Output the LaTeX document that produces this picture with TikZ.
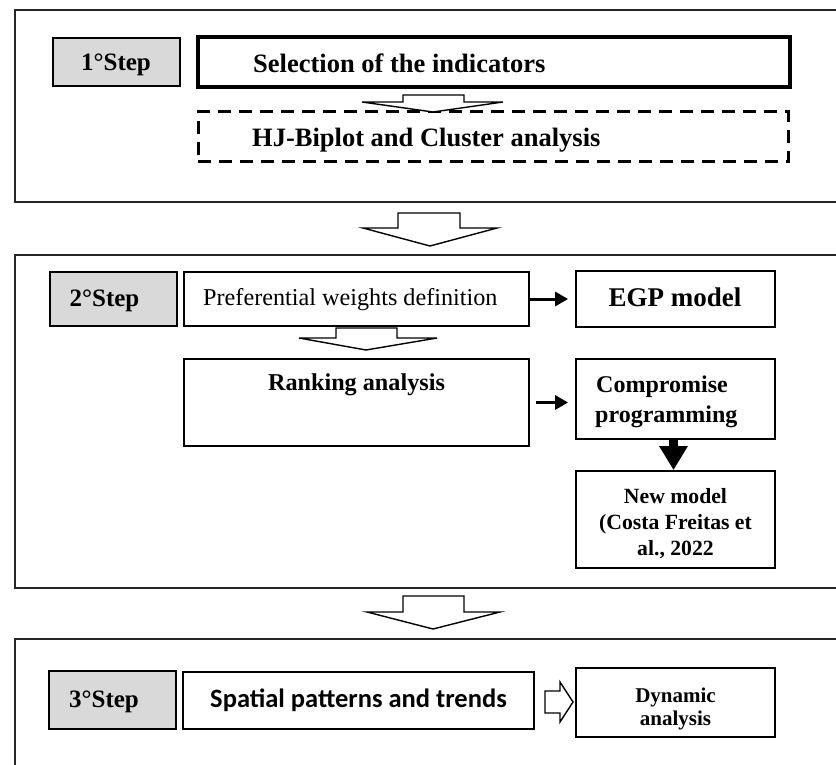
\documentclass[tikz,border=0pt]{standalone}
\usepackage{fontspec}
\setmainfont{Liberation Serif}
\newfontfamily\calibrifont{Carlito}
\usetikzlibrary{arrows.meta,fit}

\begin{document}
\begin{tikzpicture}[x=1pt,y=-1pt,
  frame/.style={draw=black!85, line width=2pt},
  box/.style={draw, line width=1.8pt, inner sep=0pt, fill=white},
  stepbox/.style={box, fill=black!15},
  strongbox/.style={box, line width=3.5pt},
  dashbox/.style={box, line width=3pt, dash pattern=on 13pt off 8pt},
  hollow/.style={draw, fill=white, line width=1.4pt, line join=miter},
  arr/.style={line width=3pt, -{Triangle[width=14pt,length=13pt]}},
  bigarr/.style={line width=9pt, -{Triangle[width=27pt,length=24pt]}},
  txt/.style={inner sep=0pt, text=black},
  fs/.style={font=\fontsize{#1}{#1}\selectfont},
  fb/.style={font=\fontsize{#1}{#1}\selectfont\bfseries},
]
\useasboundingbox (0,0) rectangle (836,765);
\clip (0,0) rectangle (836,765);
\fill[white] (0,0) rectangle (836,765);

% the three stage frames
\node[frame, inner sep=0pt, fit={(15,10) (860,202)}] (f1) {};
\node[frame, inner sep=0pt, fit={(15,255) (860,588)}] (f2) {};
\node[frame, inner sep=0pt, fit={(15,639) (860,800)}] (f3) {};

% stage 1
\node[stepbox, fit={(53,38) (180,86)}] (s1) {};
\node[strongbox, fit={(198,37) (790,87)}] (sel) {};
\node[dashbox, fit={(198,112) (788,162)}] (hj) {};
\node[txt, fb=25, anchor=base] (s1t) at (116,71) {1°Step};
\node[txt, fb=26.5, anchor=base west] (selt) at (253,73) {Selection of the indicators};
\node[txt, fb=26.5, anchor=base west] (hjt) at (252,147) {HJ-Biplot and Cluster analysis};

% stage 2
\node[stepbox, fit={(50,272) (177,326)}] (s2) {};
\node[box, fit={(184,272) (529,326)}] (pref) {};
\node[box, fit={(576,271) (775,327)}] (egp) {};
\node[box, fit={(184,359) (529,446)}] (rank) {};
\node[box, fit={(576,359) (775,439)}] (comp) {};
\node[box, fit={(576,471) (775,568)}] (newm) {};
\node[txt, fb=25, anchor=base] (s2t) at (104.5,306) {2°Step};
\node[txt, fs=24.2, anchor=base west] (preft) at (203,305) {Preferential weights definition};
\node[txt, fb=27, anchor=base] (egpt) at (675,306) {EGP model};
\node[txt, fb=24.2, anchor=base] (rankt) at (356.5,390) {Ranking analysis};
\node[txt, fb=24, anchor=base west] (compa) at (596,392) {Compromise};
\node[txt, fb=24, anchor=base west] (compb) at (595,422) {programming};
\node[txt, fb=21.7, anchor=base] (newa) at (675.5,503) {New model};
\node[txt, fb=21.7, anchor=base] (newb) at (675.5,529) {(Costa Freitas et};
\node[txt, fb=21.7, anchor=base] (newc) at (675.5,555) {al., 2022};

\draw[arr] (pref.east) -- ([xshift=-7pt]egp.west);
\draw[arr] ([xshift=6pt]rank.east) -- ([xshift=-7pt]comp.west |- rank.east);
\draw[bigarr] ([xshift=-2pt]comp.south) -- ([xshift=-2pt]newm.north);

% stage 3
\node[stepbox, fit={(49,671) (176,729)}] (s3) {};
\node[box, fit={(183,672) (534,729)}] (spat) {};
\node[box, fit={(576,668) (775,737)}] (dyn) {};
\node[txt, fb=25, anchor=base] (s3t) at (104,707) {3°Step};
\node[txt, font=\calibrifont\bfseries\fontsize{26.5}{26.5}\selectfont, anchor=base] (spatt) at (358.5,707) {Spatial patterns and trends};
\node[txt, fb=21, anchor=base] (dyna) at (675.5,702) {Dynamic};
\node[txt, fb=21, anchor=base] (dynb) at (675.5,725) {analysis};

% hollow block arrows
\coordinate (tA) at (433,112);
\coordinate (tB) at (430,246);
\coordinate (tC) at (366,350);
\coordinate (tD) at (433,629);
\coordinate (tE) at (573,702);

\draw[hollow, shift={(tA)}] (-30,-17) -- (31,-17) -- (31,-10) -- (70,-10) -- (0,0) -- (-71,-10) -- (-30,-10) -- cycle;
\draw[hollow, shift={(tB)}] (-32,-33) -- (30,-33) -- (30,-18) -- (67,-18) -- (0,0) -- (-67,-18) -- (-32,-18) -- cycle;
\draw[hollow, shift={(tC)}] (-30,-22) -- (31,-22) -- (31,-12) -- (71,-12) -- (0,0) -- (-67,-12) -- (-30,-12) -- cycle;
\draw[hollow, shift={(tD)}] (-30,-33) -- (31,-33) -- (31,-17) -- (67,-17) -- (0,0) -- (-66,-17) -- (-30,-17) -- cycle;
\draw[hollow, shift={(tE)}] (-28,-11) -- (-13,-11) -- (-13,-20) -- (0,0) -- (-13,20) -- (-13,11) -- (-28,11) -- cycle;
\end{tikzpicture}
\end{document}
